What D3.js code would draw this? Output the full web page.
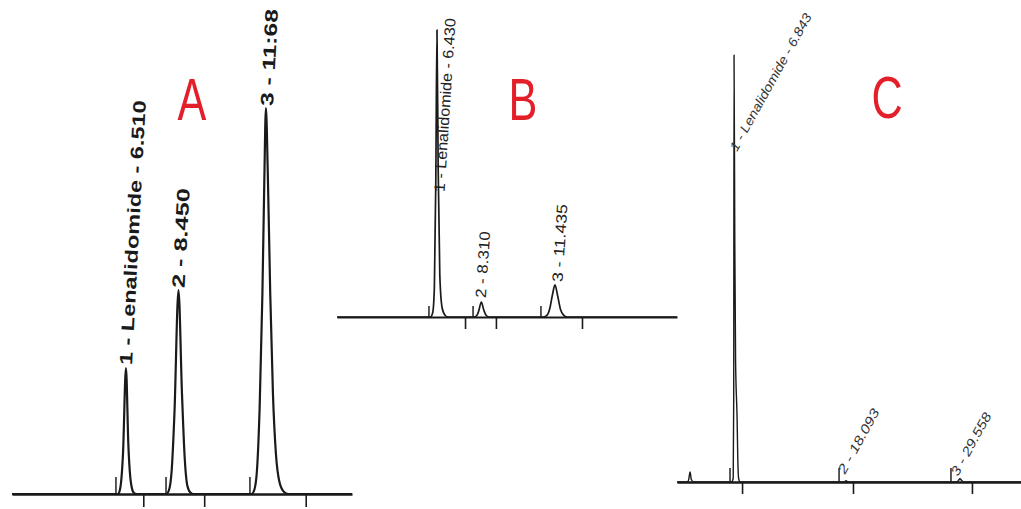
<!DOCTYPE html>
<html>
<head>
<meta charset="utf-8">
<script src="https://cdn.jsdelivr.net/npm/d3@7"></script>
<style>
  body { margin: 0; background: #fff; }
  svg { display: block; }
</style>
</head>
<body>
<div id="chart"></div>
<script>
// Chromatogram A  (time in min, signal in arbitrary units)
const labelsA = ["1 - Lenalidomide - 6.510", "2 - 8.450", "3 - 11:68"];
const rtA = [6.51, 8.45, 11.68];
const heightA = [31.5, 51, 96.5];
const startA = [6.14, 7.99, 11.09];
const ticksA = [7.15, 9.4, 13.15];
const traceA = [
  [2.30, 0], [6.22, 0], [6.3, 1.5], [6.4, 10], [6.51, 31.5], [6.6, 12], [6.7, 2.5], [6.8, 0.3], [6.9, 0],
  [8.0, 0], [8.1, 1], [8.2, 6], [8.3, 20], [8.45, 51], [8.58, 25], [8.68, 9], [8.78, 2], [8.9, 0.3], [9.0, 0],
  [11.15, 0], [11.25, 1], [11.35, 6], [11.45, 22], [11.55, 50], [11.62, 78], [11.68, 96.5], [11.75, 80],
  [11.84, 50], [11.94, 25], [12.05, 10], [12.18, 3], [12.35, 0.5], [12.5, 0], [14.86, 0]
];

// Chromatogram B
const labelsB = ["1 - Lenalidomide - 6.430", "2 - 8.310", "3 - 11.435"];
const rtB = [6.43, 8.31, 11.435];
const heightB = [95.7, 5, 10.7];
const startB = [6.09, 7.96, 10.84];
const ticksB = [7.62, 8.93, 12.58];
const traceB = [
  [2.19, 0], [6.15, 0], [6.25, 1.5], [6.32, 10], [6.38, 45], [6.43, 95.7], [6.48, 50], [6.55, 14],
  [6.65, 3], [6.78, 0.5], [6.9, 0],
  [8.0, 0], [8.12, 0.5], [8.2, 2], [8.31, 5], [8.42, 2.2], [8.52, 0.5], [8.65, 0],
  [10.95, 0], [11.1, 0.6], [11.22, 3], [11.33, 7.5], [11.435, 10.7], [11.55, 7], [11.67, 2.5],
  [11.8, 0.6], [11.95, 0], [16.61, 0]
];

// Chromatogram C
const labelsC = ["1 - Lenalidomide - 6.843", "2 - 18.093", "3 - 29.558"];
const rtC = [6.843, 18.093, 29.558];
const heightC = [106.75, 0.3, 0.8];
const startC = [6.44, 17.4, 28.65];
const ticksC = [7.65, 18.8, 30.76];
const traceC = [
  [1.11, 0], [2.15, 0], [2.3, 0.8], [2.42, 2.5], [2.55, 0.6], [2.75, 0],
  [6.6, 0], [6.76, 1], [6.81, 20], [6.843, 106.75], [6.92, 60], [7.0, 30], [7.15, 16], [7.22, 6],
  [7.3, 1], [7.45, 0],
  [17.9, 0], [18.093, 0.3], [18.3, 0],
  [29.25, 0], [29.4, 0.4], [29.558, 0.8], [29.72, 0.4], [29.9, 0], [35.69, 0]
];

const panelNames = ["A", "B", "C"];

const width = 1021, height = 509;
const svg = d3.select("#chart").append("svg")
  .attr("width", width)
  .attr("height", height);

svg.append("rect").attr("width", width).attr("height", height).attr("fill", "#fff");

// layout of each panel in the collage
const panels = [
  { labels: labelsA, rt: rtA, h: heightA, start: startA, ticks: ticksA, trace: traceA,
    xDom: [2.30, 14.86], xRange: [12, 352], base: 494, pxPerUnit: 4,
    lineW: 2.2, baseW: 2.6, markH: 17, tickH: 13,
    angle: -87, dx: [0, 0, 1], dy: [-3, -2, -2], font: "bold 18px 'Liberation Sans', Arial, sans-serif",
    textLen: [265, 100, 97], adjust: "spacingAndGlyphs", anchorBase: "central", textFill: "#1a1a1a",
    letterX: 192, letterY: 120 },
  { labels: labelsB, rt: rtB, h: heightB, start: startB, ticks: ticksB, trace: traceB,
    xDom: [2.19, 16.61], xRange: [337, 677], base: 317, pxPerUnit: 3,
    lineW: 1.7, baseW: 2.2, markH: 11, tickH: 12,
    angle: -86.3, dx: [2, -1, 2], dy: [162, -4, -3], font: "15px 'Liberation Sans', Arial, sans-serif",
    textLen: [174, 67, 78], adjust: "spacingAndGlyphs", anchorBase: "central", textFill: "#222",
    letterX: 523, letterY: 120 },
  { labels: labelsC, rt: rtC, h: heightC, start: startC, ticks: ticksC, trace: traceC,
    xDom: [1.11, 35.69], xRange: [677, 1021], base: 482, pxPerUnit: 4,
    lineW: 1.4, baseW: 2.6, markH: 14, tickH: 12,
    angle: -61, dx: [3, -1, -2], dy: [97, -6, -2], font: "italic 13px 'Liberation Sans', Arial, sans-serif",
    textLen: [155, 72, 70], adjust: "spacingAndGlyphs", anchorBase: "alphabetic", textFill: "#333",
    letterX: 887, letterY: 118 }
];

panels.forEach((p, i) => {
  const x = d3.scaleLinear().domain(p.xDom).range(p.xRange);
  const y = d3.scaleLinear().domain([0, 100]).range([p.base, p.base - 100 * p.pxPerUnit]);
  const g = svg.append("g");

  // time axis: baseline + downward ticks
  const axis = g.append("g")
    .attr("transform", "translate(0," + p.base + ")")
    .call(d3.axisBottom(x).tickValues(p.ticks).tickSizeInner(p.tickH).tickSizeOuter(0).tickFormat(""));
  axis.select(".domain").attr("stroke", "#1a1a1a").attr("stroke-width", p.baseW);
  axis.selectAll(".tick line").attr("stroke", "#1a1a1a").attr("stroke-width", 1.6);

  // integration start marks
  g.selectAll(".mark").data(p.start).enter().append("line")
    .attr("x1", d => x(d)).attr("x2", d => x(d))
    .attr("y1", p.base).attr("y2", p.base - p.markH)
    .attr("stroke", "#222").attr("stroke-width", 1.5);

  // detector trace
  const line = d3.line()
    .x(d => x(d[0]))
    .y(d => y(d[1]))
    .curve(d3.curveMonotoneX);
  g.append("path")
    .datum(p.trace)
    .attr("d", line)
    .attr("fill", "none")
    .attr("stroke", "#1a1a1a")
    .attr("stroke-width", p.lineW)
    .attr("stroke-linejoin", "round");

  // peak labels
  g.selectAll(".peak-label").data(p.labels).enter().append("text")
    .attr("transform", (d, k) => "translate(" + (x(p.rt[k]) + p.dx[k]) + "," + (y(p.h[k]) + p.dy[k]) + ") rotate(" + p.angle + ")")
    .attr("dominant-baseline", p.anchorBase)
    .attr("textLength", (d, k) => p.textLen[k])
    .attr("lengthAdjust", p.adjust)
    .style("font", p.font)
    .attr("fill", p.textFill)
    .text(d => d);

  // panel letter (narrow, like the red overlay letters)
  svg.append("text")
    .attr("transform", "translate(" + p.letterX + "," + p.letterY + ") scale(0.72,1)")
    .attr("text-anchor", "middle")
    .style("font", "60px 'Liberation Sans Narrow', 'Liberation Sans', Arial, sans-serif")
    .attr("fill", "#e3202a")
    .text(panelNames[i]);
});
</script>
</body>
</html>
